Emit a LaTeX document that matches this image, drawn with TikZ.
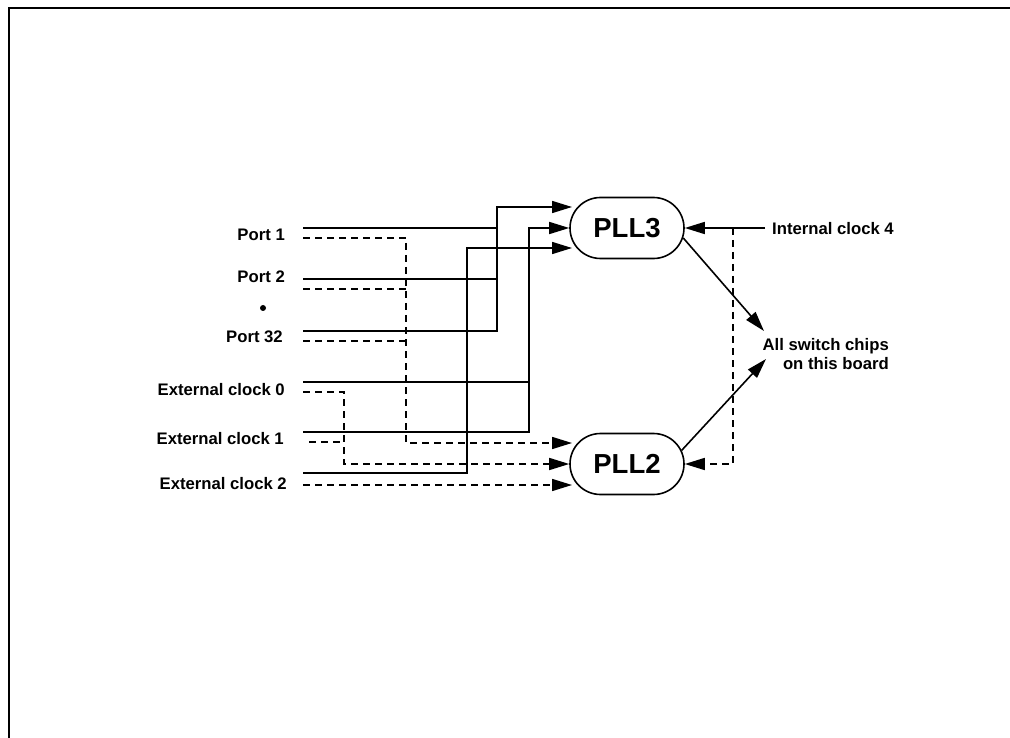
\documentclass[tikz,border=0pt]{standalone}
\usepackage{fontspec}
\setmainfont{Liberation Sans}
\usetikzlibrary{arrows.meta,shapes.misc}
\tikzset{
 lbl/.style={font=\fontsize{16.7}{19}\selectfont\bfseries, inner sep=0pt},
 pll/.style={rounded rectangle, draw, line width=1.6pt, minimum width=114pt, minimum height=61pt, inner sep=0pt, font=\fontsize{27.5}{30}\selectfont\bfseries},
 wire/.style={line width=1.6pt},
 dwire/.style={line width=1.6pt, dash pattern=on 7pt off 5pt},
 arr/.style={-{Triangle[length=20pt,width=12pt]}},
}
\begin{document}
\begin{tikzpicture}[x=1pt,y=-1pt]
\useasboundingbox (0,0) rectangle (1010,738);
\draw[line width=2pt] (9,738) -- (9,8) -- (1010,8);

% labels
\node[lbl,anchor=east] (p1) at (285,235) {Port 1};
\node[lbl,anchor=east] (p2) at (285,277) {Port 2};
\node[circle,fill,inner sep=0pt,minimum size=6pt] (dot) at (263,308) {};
\node[lbl,anchor=east] (p32) at (283,337) {Port 32};
\node[lbl,anchor=east] (e0) at (285,390) {External clock 0};
\node[lbl,anchor=east] (e1) at (284,439) {External clock 1};
\node[lbl,anchor=east] (e2) at (287,484) {External clock 2};

% PLL nodes
\node[pll] (pll3) at (627,228) {PLL3};
\node[pll] (pll2) at (627,464) {PLL2};

% right side labels
\node[lbl,anchor=west] (ic4) at (772,229) {Internal clock 4};
\node[lbl,align=right,anchor=east] (all) at (889,354) {All switch chips\\on this board};

% line start coordinates
\coordinate (s1) at (303,228);
\coordinate (d1) at (303,238);
\coordinate (s2) at (303,279);
\coordinate (d2) at (303,289);
\coordinate (s32) at (303,331);
\coordinate (d32) at (303,341);
\coordinate (se0) at (303,382);
\coordinate (de0) at (303,392);
\coordinate (se1) at (303,432);
\coordinate (de1) at (309,442);
\coordinate (se2) at (303,473);
\coordinate (de2) at (303,485);
\coordinate (t3a) at (572,207);
\coordinate (t3c) at (572,248);
\coordinate (t2a) at (572,443);
\coordinate (t2c) at (572,485);
\coordinate (icl) at (765,228);
\coordinate (icd) at (733,228);
\coordinate (tipA) at (764,331);
\coordinate (tipB) at (766,359);

% solid wires to PLL3
\draw[wire] (s1) -- (s1 -| 497,0);
\draw[wire] (s2) -- (s2 -| 497,0);
\draw[wire,arr] (s32) -- (s32 -| 497,0) -- (497,207) -- (t3a);
\draw[wire] (se0) -- (se0 -| 529,0);
\draw[wire,arr] (se1) -- (se1 -| 529,0) -- (529,228) -- (pll3.west);
\draw[wire,arr] (se2) -- (se2 -| 467,0) -- (467,248) -- (t3c);

% dashed wires to PLL2
\draw[dwire] (d2) -- (d2 -| 406,0);
\draw[dwire] (d32) -- (d32 -| 406,0);
\draw[dwire,arr] (d1) -- (d1 -| 406,0) -- (406,443) -- (t2a);
\draw[dwire] (de1) -- (de1 -| 344,0);
\draw[dwire,arr] (de0) -- (de0 -| 344,0) -- (344,464) -- (pll2.west);
\draw[dwire,arr] (de2) -- (t2c);

% right side
\draw[wire,arr] (icl) -- (pll3.east);
\draw[dwire,arr] (icd) -- (733,464) -- (pll2.east);
\draw[wire,arr] (pll3.-10) -- (tipA);
\draw[wire,arr] (pll2.14) -- (tipB);
\end{tikzpicture}
\end{document}
